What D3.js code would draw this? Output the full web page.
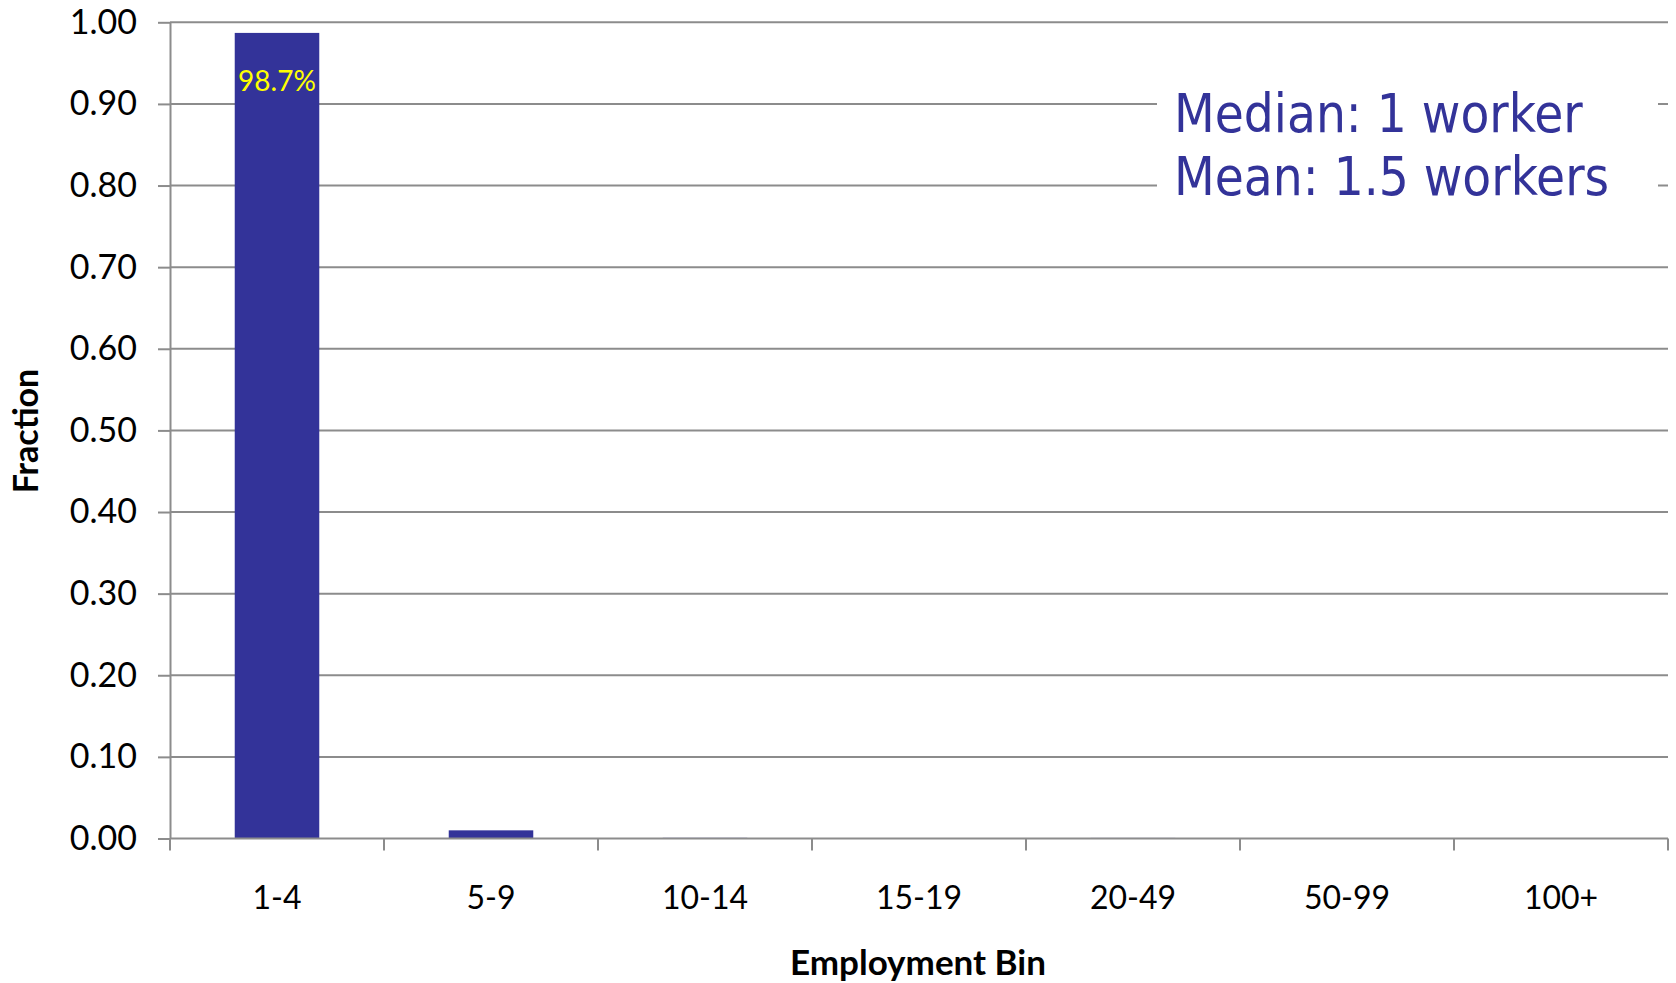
<!DOCTYPE html>
<html>
<head>
<meta charset="utf-8">
<script src="https://cdn.jsdelivr.net/npm/d3@7/dist/d3.min.js"></script>
<style>
  html, body { margin: 0; padding: 0; background: #fff; }
  svg { display: block; }
</style>
</head>
<body>
<svg id="chart" width="1676" height="983"></svg>
<script>
// Firm size distribution by employment bin
const categories = ["1-4", "5-9", "10-14", "15-19", "20-49", "50-99", "100+"];
const fractions = [0.987, 0.010, 0.0008, 0.0005, 0.0007, 0.0002, 0.0001];
const yTicks = [0, 0.1, 0.2, 0.3, 0.4, 0.5, 0.6, 0.7, 0.8, 0.9, 1.0];
const barLabels = ["98.7%"];
const noteLines = ["Median: 1 worker", "Mean: 1.5 workers"];

const svg = d3.select("#chart");
const plotLeft = 170, plotRight = 1668, plotTop = 22.3, plotBottom = 838.5;
const gridColor = "#8c8c8c";
const barColor = "#333399";
const tickFont = "Lato, 'Open Sans', sans-serif";

const x = d3.scaleBand().domain(categories).range([plotLeft, plotRight]).padding(0);
const y = d3.scaleLinear().domain([0, 1]).range([plotBottom, plotTop]);

// horizontal gridlines
svg.append("g")
  .selectAll("line")
  .data(yTicks.filter(d => d > 0))
  .join("line")
  .attr("x1", plotLeft).attr("x2", plotRight)
  .attr("y1", d => y(d)).attr("y2", d => y(d))
  .attr("stroke", gridColor).attr("stroke-width", 2);

// bars, 40% of each category slot, centred
const barFrac = 0.395;
svg.append("g")
  .selectAll("rect")
  .data(categories.map((c, i) => ({ c, v: fractions[i] })))
  .join("rect")
  .attr("x", d => x(d.c) + x.bandwidth() * (1 - barFrac) / 2)
  .attr("width", x.bandwidth() * barFrac)
  .attr("y", d => y(d.v))
  .attr("height", d => y(0) - y(d.v))
  .attr("fill", barColor);

// value label inside the tallest bar
svg.append("text")
  .attr("x", x(categories[0]) + x.bandwidth() / 2)
  .attr("y", y(fractions[0]) + 58)
  .attr("text-anchor", "middle")
  .attr("font-family", tickFont)
  .attr("font-size", 28)
  .attr("fill", "#ffff00")
  .text(barLabels[0]);

// y axis
const yAxis = d3.axisLeft(y).tickValues(yTicks).tickFormat(d3.format(".2f"))
  .tickSizeInner(12).tickSizeOuter(0).tickPadding(21);
const gy = svg.append("g").attr("transform", `translate(${plotLeft},0)`).call(yAxis);
gy.select(".domain").attr("stroke", gridColor).attr("stroke-width", 2);
gy.selectAll(".tick line").attr("stroke", gridColor).attr("stroke-width", 2);
gy.selectAll(".tick text")
  .attr("font-family", tickFont).attr("font-size", 34).attr("fill", "#000");

// x axis with ticks on category boundaries
const gx = svg.append("g").attr("transform", `translate(0,${plotBottom})`);
gx.append("line")
  .attr("x1", plotLeft).attr("x2", plotRight)
  .attr("stroke", gridColor).attr("stroke-width", 2);
const boundaries = categories.map(c => x(c)).concat([x(categories[categories.length - 1]) + x.bandwidth()]);
gx.selectAll("line.tk")
  .data(boundaries)
  .join("line").attr("class", "tk")
  .attr("x1", d => d).attr("x2", d => d)
  .attr("y1", 0).attr("y2", 12)
  .attr("stroke", gridColor).attr("stroke-width", 2);
gx.selectAll("text")
  .data(categories)
  .join("text")
  .attr("x", d => x(d) + x.bandwidth() / 2)
  .attr("y", 70)
  .attr("text-anchor", "middle")
  .attr("font-family", tickFont).attr("font-size", 32).attr("fill", "#000")
  .text(d => d);

// axis titles
svg.append("text")
  .attr("transform", "translate(38,431) rotate(-90)")
  .attr("text-anchor", "middle")
  .attr("font-family", tickFont).attr("font-weight", "bold")
  .attr("font-size", 34).attr("fill", "#000")
  .text("Fraction");
svg.append("text")
  .attr("x", 918).attr("y", 975)
  .attr("text-anchor", "middle")
  .attr("font-family", tickFont).attr("font-weight", "bold")
  .attr("font-size", 35).attr("fill", "#000")
  .text("Employment Bin");

// summary note on a white box over the grid
svg.append("rect")
  .attr("x", 1157).attr("y", 72).attr("width", 501).attr("height", 140)
  .attr("fill", "#fff");
svg.append("g")
  .selectAll("text")
  .data(noteLines)
  .join("text")
  .attr("x", 1174)
  .attr("y", (d, i) => 132 + i * 63)
  .attr("font-family", "'DejaVu Sans Condensed', 'DejaVu Sans', sans-serif")
  .attr("font-stretch", "condensed")
  .attr("font-size", 52.5)
  .attr("fill", barColor)
  .text(d => d);
</script>
</body>
</html>
